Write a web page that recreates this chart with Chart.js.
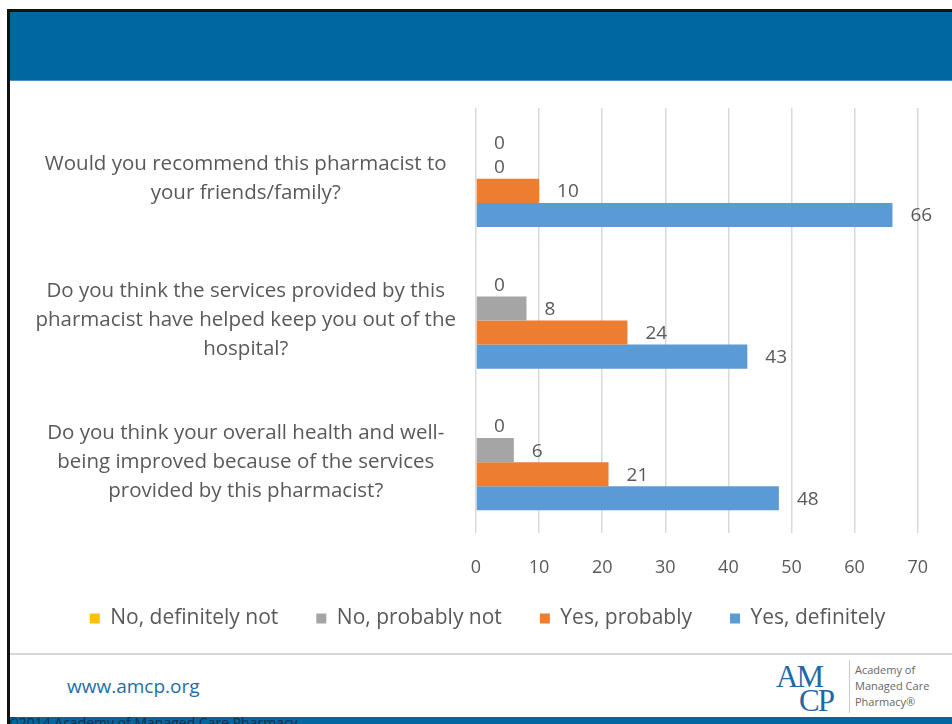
<!DOCTYPE html>
<html>
<head>
<meta charset="utf-8">
<script src="https://cdn.jsdelivr.net/npm/chart.js@4/dist/chart.umd.min.js"></script>
<style>
  html, body { margin: 0; padding: 0; background: #fff; }
  body { width: 952px; height: 724px; position: relative; overflow: hidden; font-family: "Open Sans", sans-serif; }
  .frame-top { position: absolute; left: 7px; top: 9px; width: 945px; height: 3px; background: #111; }
  .frame-left { position: absolute; left: 7px; top: 9px; width: 3px; height: 715px; background: #111; }
  .header { position: absolute; left: 10px; top: 12px; width: 942px; height: 68px; background: #0067a1; border-bottom: 1px solid #4f8fbb; }
  .chart-box { position: absolute; left: 10px; top: 82px; width: 942px; height: 570px; }
  .rule { position: absolute; left: 10px; top: 653px; width: 942px; height: 2px; background: #d6d6d6; }
  .url { position: absolute; left: 67px; top: 673px; font-size: 19px; color: #1f6dab; }
  .logo-a { position: absolute; left: 776px; top: 659px; font-family: "Liberation Serif", serif; font-size: 31px; color: #1f67a6; letter-spacing: -2px; }
  .logo-c { position: absolute; left: 799px; top: 683px; font-family: "Liberation Serif", serif; font-size: 31px; color: #1f67a6; letter-spacing: -2px; }
  .logo-bar { position: absolute; left: 849px; top: 660px; width: 1px; height: 53px; background: #c8c8c8; }
  .logo-txt { position: absolute; left: 855px; top: 662px; font-size: 11px; line-height: 16px; color: #666; }
  .footer { position: absolute; left: 10px; top: 717px; width: 942px; height: 7px; background: #0067a1; overflow: hidden; }
  .footer span { position: absolute; left: -3px; top: -4px; font-size: 14px; color: #1a2c48; white-space: nowrap; }
</style>
</head>
<body>
<div class="frame-top"></div>
<div class="frame-left"></div>
<div class="header"></div>
<div class="chart-box"><canvas id="chart" width="942" height="570"></canvas></div>
<div class="rule"></div>
<div class="url">www.amcp.org</div>
<div class="logo-a">AM</div>
<div class="logo-c">CP</div>
<div class="logo-bar"></div>
<div class="logo-txt">Academy of<br>Managed Care<br>Pharmacy®</div>
<div class="footer"><span>©2014 Academy of Managed Care Pharmacy</span></div>

<script>
// questions, one array of lines per bar group
var questions = [
  ['Would you recommend this pharmacist to', 'your friends/family?'],
  ['Do you think the services provided by this', 'pharmacist have helped keep you out of the', 'hospital?'],
  ['Do you think your overall health and well-', 'being improved because of the services', 'provided by this pharmacist?']
];

var answerNames = ['No, definitely not', 'No, probably not', 'Yes, probably', 'Yes, definitely'];
var answerColors = ['#ffc000', '#a5a5a5', '#ed7d31', '#5b9bd5'];

var noDefinitelyNot = [0, 0, 0];
var noProbablyNot = [0, 8, 6];
var yesProbably = [10, 24, 21];
var yesDefinitely = [66, 43, 48];

var xTicks = [0, 10, 20, 30, 40, 50, 60, 70];

var textGrey = '#595959';
var font = '"Open Sans", sans-serif';

// value labels right of each bar end
var barValues = {
  id: 'barValues',
  afterDatasetsDraw: function(chart) {
    var ctx = chart.ctx;
    ctx.save();
    ctx.font = '19px ' + font;
    ctx.fillStyle = textGrey;
    ctx.textAlign = 'left';
    ctx.textBaseline = 'middle';
    chart.data.datasets.forEach(function(ds, i) {
      chart.getDatasetMeta(i).data.forEach(function(bar, j) {
        ctx.fillText(String(ds.data[j]), bar.x + 18, bar.y + 1);
      });
    });
    ctx.restore();
  }
};

// nudge the legend row a little, like the original slide
var legendNudge = {
  id: 'legendNudge',
  afterLayout: function(chart) {
    var lg = chart.legend;
    lg.left += 20; lg.right += 20;
    lg.top -= 10; lg.bottom -= 10;
  }
};

var seriesValues = [noDefinitelyNot, noProbablyNot, yesProbably, yesDefinitely];

new Chart(document.getElementById('chart'), {
  type: 'bar',
  data: {
    labels: questions,
    datasets: seriesValues.map(function(values, i) {
      return {
        label: answerNames[i],
        data: values,
        backgroundColor: answerColors[i],
        borderWidth: 0,
        categoryPercentage: 0.68,
        barPercentage: 1.0
      };
    })
  },
  options: {
    indexAxis: 'y',
    responsive: false,
    animation: false,
    devicePixelRatio: 1,
    layout: { padding: { top: 26, right: 27, bottom: 3, left: 0 } },
    scales: {
      x: {
        min: 0,
        max: 70,
        afterBuildTicks: function(axis) {
          axis.ticks = xTicks.map(function(v) { return { value: v }; });
        },
        afterFit: function(axis) { axis.height = 47; },
        grid: { color: '#d9d9d9', lineWidth: 1.5, drawTicks: false },
        border: { display: false },
        ticks: { color: textGrey, font: { family: font, size: 18 }, padding: 24 }
      },
      y: {
        grid: { display: false },
        border: { display: false },
        afterFit: function(axis) {
          axis.width = 466;
          axis.paddingTop = 0;
          axis.paddingBottom = 0;
        },
        ticks: {
          color: textGrey,
          crossAlign: 'center',
          padding: 12,
          font: { family: font, size: 20.5, lineHeight: 1.42 }
        }
      }
    },
    plugins: {
      legend: {
        position: 'bottom',
        labels: {
          color: textGrey,
          boxWidth: 10,
          boxHeight: 10,
          padding: 38,
          font: { family: font, size: 21 }
        }
      },
      tooltip: { enabled: false }
    }
  },
  plugins: [barValues, legendNudge]
});
</script>
</body>
</html>
